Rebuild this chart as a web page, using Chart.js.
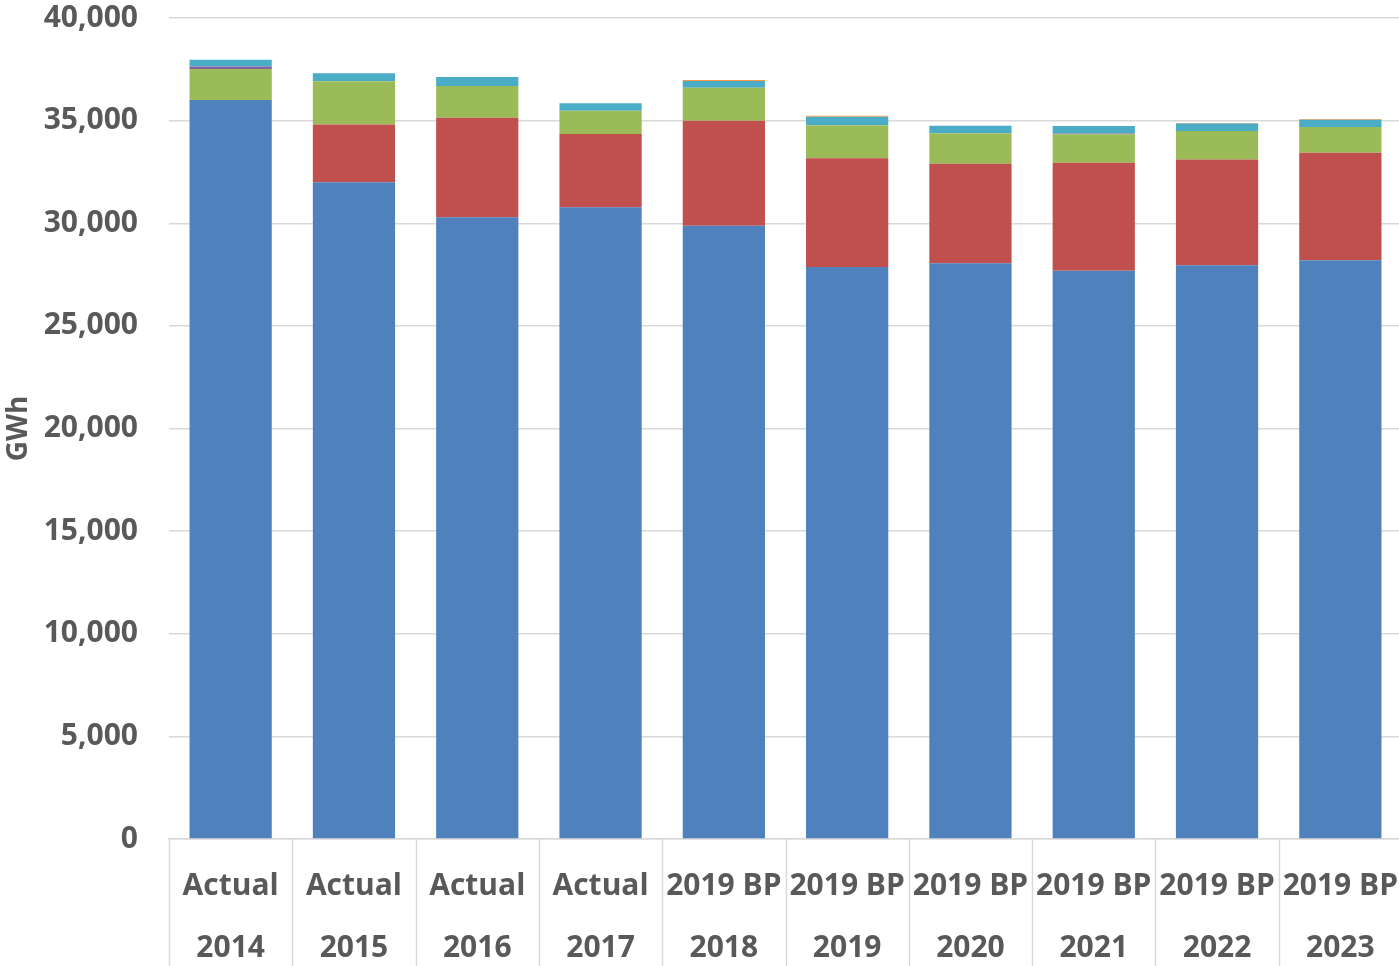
<!DOCTYPE html>
<html>
<head>
<meta charset="utf-8">
<title>Energy by year (GWh)</title>
<script src="https://cdn.jsdelivr.net/npm/chart.js@4.4.1/dist/chart.umd.min.js"></script>
<style>
  html, body { margin: 0; padding: 0; background: #fff; overflow: hidden; }
  /* plot runs a few pixels past the right edge of the window */
  #wrap { width: 1402px; height: 966px; }
</style>
</head>
<body>
<div id="wrap"><canvas id="energyChart"></canvas></div>
<script>
// Categories: two-line labels (scenario / year)
const scenarios = ['Actual', 'Actual', 'Actual', 'Actual', '2019 BP', '2019 BP', '2019 BP', '2019 BP', '2019 BP', '2019 BP'];
const years = ['2014', '2015', '2016', '2017', '2018', '2019', '2020', '2021', '2022', '2023'];

// Stacked series, GWh (bottom to top)
const seriesBlue   = [36000, 32000, 30290, 30780, 29880, 27870, 28050, 27690, 27950, 28200];
const seriesRed    = [0, 2810, 4850, 3570, 5120, 5300, 4850, 5260, 5150, 5240];
const seriesGreen  = [1510, 2110, 1545, 1135, 1605, 1610, 1480, 1385, 1400, 1250];
const seriesPurple = [130, 0, 0, 0, 0, 0, 0, 40, 0, 0];
const seriesCyan   = [330, 390, 440, 360, 325, 405, 370, 365, 355, 355];
const seriesOrange = [0, 0, 0, 0, 50, 50, 0, 0, 35, 35];

const yTicks = [0, 5000, 10000, 15000, 20000, 25000, 30000, 35000, 40000];

const textColor = '#595959';
const gridColor = '#d9d9d9';

function series(label, data, color) {
  return {
    label: label,
    data: data,
    backgroundColor: color,
    borderWidth: 0,
    barPercentage: 1,
    categoryPercentage: 0.667
  };
}

// Vertical separators between category labels, below the plot
const categorySeparators = {
  id: 'categorySeparators',
  afterDraw(chart) {
    const x = chart.scales.x;
    const ctx = chart.ctx;
    const n = x.ticks.length;
    const step = (x.right - x.left) / n;
    ctx.save();
    ctx.strokeStyle = gridColor;
    ctx.lineWidth = 1.5;
    ctx.beginPath();
    for (let i = 0; i < n; i++) {
      const px = Math.round(x.getPixelForValue(i) - step / 2) + 0.5;
      ctx.moveTo(px, x.top);
      ctx.lineTo(px, chart.height);
    }
    ctx.stroke();
    ctx.restore();
  }
};

const ctx = document.getElementById('energyChart');
new Chart(ctx, {
  type: 'bar',
  data: {
    labels: scenarios.map((s, i) => [s, years[i]]),
    datasets: [
      series('Blue', seriesBlue, '#4f81bd'),
      series('Red', seriesRed, '#c0504d'),
      series('Green', seriesGreen, '#9bbb59'),
      series('Purple', seriesPurple, '#8064a2'),
      series('Cyan', seriesCyan, '#4bacc6'),
      series('Orange', seriesOrange, '#f79646')
    ]
  },
  options: {
    responsive: true,
    maintainAspectRatio: false,
    animation: false,
    layout: { padding: { top: 18, right: 0, bottom: 0, left: 0 } },
    plugins: {
      legend: { display: false },
      tooltip: { enabled: false }
    },
    scales: {
      x: {
        stacked: true,
        grid: { display: false },
        border: { display: true, color: gridColor, width: 1.5 },
        ticks: {
          color: textColor,
          padding: 8,
          maxRotation: 0,
          autoSkip: false,
          font: { family: '"Open Sans", sans-serif', size: 30, weight: 'bold', lineHeight: 2.07 }
        },
        afterFit(scale) {
          scale.height = 127;
          scale.paddingLeft = 0;
          scale.paddingRight = 0;
        }
      },
      y: {
        stacked: true,
        min: 0,
        max: 40000,
        afterBuildTicks(scale) { scale.ticks = yTicks.map(v => ({ value: v })); },
        grid: { color: gridColor, lineWidth: 1.5, drawTicks: false },
        border: { display: false },
        ticks: {
          color: textColor,
          padding: 31,
          font: { family: '"Open Sans", sans-serif', size: 30, weight: 'bold' },
          callback: v => v.toLocaleString('en-US')
        },
        title: {
          display: true,
          text: 'GWh',
          color: textColor,
          padding: { top: 2, bottom: 0 },
          font: { family: '"Open Sans", sans-serif', size: 28, weight: 'bold' }
        },
        afterFit(scale) {
          scale.width = 169;
          scale.paddingTop = 0;
          scale.paddingBottom = 0;
        }
      }
    }
  },
  plugins: [categorySeparators]
});
</script>
</body>
</html>
